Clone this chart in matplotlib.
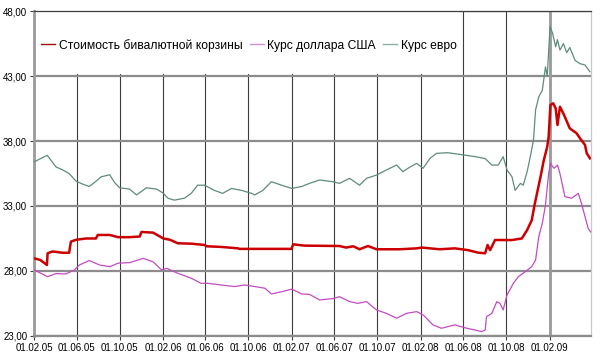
import matplotlib
matplotlib.use("Agg")
import matplotlib.pyplot as plt
import matplotlib.dates as mdates
from matplotlib.lines import Line2D
from matplotlib.patches import Rectangle
from matplotlib.ticker import FixedLocator, FuncFormatter
import pandas as pd

plt.rcParams["font.family"] = ["Liberation Sans", "DejaVu Sans"]

# Курс евро (руб.)
euro_dates = [
    "2005-02-01", "2005-03-10", "2005-04-04", "2005-04-21", "2005-05-11", "2005-05-31",
    "2005-06-17", "2005-07-07", "2005-07-26", "2005-08-10", "2005-09-03", "2005-09-17",
    "2005-10-01", "2005-10-29", "2005-11-18", "2005-12-16", "2006-01-14", "2006-02-01",
    "2006-02-15", "2006-03-05", "2006-04-03", "2006-04-22", "2006-05-10", "2006-05-30",
    "2006-06-27", "2006-07-20", "2006-08-14", "2006-09-12", "2006-10-10", "2006-10-19",
    "2006-11-11", "2006-12-05", "2007-01-03", "2007-02-01", "2007-03-01", "2007-03-23",
    "2007-04-21", "2007-05-28", "2007-06-16", "2007-07-15", "2007-08-12", "2007-09-01",
    "2007-09-29", "2007-10-27", "2007-11-25", "2007-12-13", "2008-01-02", "2008-01-21",
    "2008-02-08", "2008-02-28", "2008-03-17", "2008-04-18", "2008-05-27", "2008-07-04",
    "2008-08-02", "2008-08-21", "2008-09-08", "2008-09-22", "2008-10-03", "2008-10-17",
    "2008-10-26", "2008-11-10", "2008-11-18", "2008-11-29", "2008-12-08", "2008-12-17",
    "2008-12-23", "2009-01-01", "2009-01-11", "2009-01-20", "2009-01-25", "2009-02-02",
    "2009-02-09", "2009-02-18", "2009-02-23", "2009-03-02", "2009-03-12", "2009-03-21",
    "2009-03-30", "2009-04-14", "2009-04-28", "2009-05-12", "2009-05-26",
]
euro_vals = [
    36.4, 36.9, 36.0, 35.8, 35.5, 34.9,
    34.7, 34.5, 34.9, 35.25, 35.4, 34.8,
    34.4, 34.3, 33.85, 34.4, 34.3, 34.0,
    33.6, 33.45, 33.6, 33.97, 34.6, 34.6,
    34.2, 33.97, 34.35, 34.2, 33.97, 33.85,
    34.2, 34.87, 34.6, 34.35, 34.5, 34.74,
    35.0, 34.87, 34.74, 35.13, 34.6, 35.13,
    35.38, 35.77, 36.15, 35.64, 36.0, 36.28,
    35.9, 36.67, 37.05, 37.1, 36.95, 36.8,
    36.65, 36.15, 36.15, 36.8, 35.77, 35.25,
    34.2, 34.74, 34.6, 35.64, 36.8, 38.08,
    40.4, 41.4, 41.9, 43.7, 43.0, 46.8,
    46.3, 45.25, 45.8, 45.0, 45.5, 44.8,
    45.2, 44.2, 43.95, 43.85, 43.33,
]

# Курс доллара США (руб.)
usd_dates = [
    "2005-02-01", "2005-03-11", "2005-04-04", "2005-05-02", "2005-05-26", "2005-06-09",
    "2005-07-07", "2005-08-05", "2005-09-03", "2005-09-27", "2005-10-29", "2005-12-07",
    "2006-01-04", "2006-01-28", "2006-02-12", "2006-03-15", "2006-04-22", "2006-05-20",
    "2006-06-08", "2006-07-16", "2006-08-23", "2006-09-21", "2006-10-19", "2006-11-17",
    "2006-12-05", "2007-01-03", "2007-02-01", "2007-03-01", "2007-03-23", "2007-04-21",
    "2007-05-28", "2007-06-16", "2007-07-15", "2007-08-07", "2007-09-01", "2007-09-29",
    "2007-10-27", "2007-11-25", "2007-12-23", "2008-01-21", "2008-02-09", "2008-03-07",
    "2008-03-31", "2008-05-08", "2008-06-11", "2008-07-04", "2008-07-23", "2008-08-02",
    "2008-08-06", "2008-08-21", "2008-09-04", "2008-09-13", "2008-09-22", "2008-10-03",
    "2008-10-21", "2008-11-04", "2008-11-24", "2008-12-12", "2008-12-23", "2009-01-01",
    "2009-01-11", "2009-01-20", "2009-01-29", "2009-02-03", "2009-02-13", "2009-02-23",
    "2009-03-02", "2009-03-16", "2009-04-04", "2009-04-23", "2009-05-02", "2009-05-12",
    "2009-05-21", "2009-05-28",
]
usd_vals = [
    28.08, 27.56, 27.8, 27.77, 28.08, 28.46,
    28.8, 28.46, 28.33, 28.6, 28.64, 28.97,
    28.7, 28.08, 28.2, 27.82, 27.44, 27.05,
    27.05, 26.92, 26.8, 26.92, 26.8, 26.67,
    26.23, 26.4, 26.6, 26.23, 26.2, 25.77,
    25.87, 26.02, 25.64, 25.51, 25.64, 25.0,
    24.74, 24.36, 24.74, 24.87, 24.6, 23.85,
    23.59, 23.85, 23.59, 23.46, 23.33, 23.46,
    24.48, 24.74, 25.64, 25.51, 25.0, 26.15,
    27.05, 27.56, 27.95, 28.33, 28.85, 30.64,
    31.67, 33.08, 35.51, 36.28, 35.9, 36.15,
    35.5, 33.72, 33.6, 33.97, 33.2, 32.18,
    31.28, 31.0,
]

# Стоимость бивалютной корзины (руб.)
basket_dates = [
    "2005-02-01", "2005-02-18", "2005-03-09", "2005-03-11", "2005-03-25", "2005-04-23",
    "2005-05-11", "2005-05-16", "2005-05-31", "2005-06-28", "2005-07-26", "2005-07-31",
    "2005-09-03", "2005-09-27", "2005-10-29", "2005-11-27", "2005-12-02", "2006-01-04",
    "2006-02-02", "2006-02-21", "2006-03-15", "2006-04-22", "2006-05-30", "2006-06-04",
    "2006-07-16", "2006-09-02", "2006-09-06", "2006-11-17", "2007-01-31", "2007-02-05",
    "2007-03-09", "2007-06-16", "2007-07-05", "2007-07-25", "2007-08-12", "2007-09-05",
    "2007-09-29", "2007-12-04", "2008-01-21", "2008-02-04", "2008-03-26", "2008-05-08",
    "2008-06-15", "2008-07-13", "2008-08-02", "2008-08-09", "2008-08-16", "2008-08-30",
    "2008-09-18", "2008-10-17", "2008-11-14", "2008-11-29", "2008-12-12", "2008-12-20",
    "2008-12-27", "2009-01-06", "2009-01-15", "2009-01-25", "2009-01-29", "2009-02-03",
    "2009-02-11", "2009-02-18", "2009-02-23", "2009-03-02", "2009-03-12", "2009-03-30",
    "2009-04-18", "2009-04-28", "2009-05-12", "2009-05-17", "2009-05-26",
]
basket_vals = [
    28.97, 28.85, 28.46, 29.36, 29.5, 29.4,
    29.4, 30.26, 30.4, 30.5, 30.5, 30.77,
    30.77, 30.6, 30.6, 30.65, 31.0, 30.95,
    30.5, 30.4, 30.13, 30.1, 30.0, 29.9,
    29.85, 29.74, 29.7, 29.7, 29.7, 30.05,
    29.95, 29.92, 29.8, 29.9, 29.67, 29.92,
    29.67, 29.67, 29.74, 29.8, 29.67, 29.74,
    29.6, 29.41, 29.36, 30.0, 29.6, 30.38,
    30.38, 30.38, 30.5, 31.15, 31.9, 33.08,
    33.97, 35.25, 36.5, 37.56, 38.33, 40.77,
    40.9, 40.5, 39.23, 40.64, 40.1, 38.97,
    38.6, 38.2, 37.7, 37.05, 36.67,
]

tick_dates = [
    "2005-02-01", "2005-06-01", "2005-10-01", "2006-02-01", "2006-06-01", "2006-10-01",
    "2007-02-01", "2007-06-01", "2007-10-01", "2008-02-01", "2008-06-01", "2008-10-01",
    "2009-02-01",
]
y_ticks = [23, 28, 33, 38, 43, 48]

labels = ["Стоимость бивалютной корзины", "Курс доллара США", "Курс евро"]
colors = ["#cc0000", "#c24cc2", "#5e8c7c"]
legend_colors = ["#a01010", "#d090d0", "#8fb0a5"]

fig = plt.figure(figsize=(6, 3.57), dpi=100)
ax = fig.add_axes([0.057, 0.059, 0.928, 0.910])

ax.plot(pd.to_datetime(euro_dates), euro_vals, color=colors[2], lw=0.9, zorder=3)
ax.plot(pd.to_datetime(usd_dates), usd_vals, color=colors[1], lw=0.9, zorder=3)
ax.plot(pd.to_datetime(basket_dates), basket_vals, color=colors[0], lw=1.8, zorder=4)

ticks_num = mdates.date2num(pd.to_datetime(tick_dates))
ax.xaxis.set_major_locator(FixedLocator(ticks_num))
ax.xaxis.set_major_formatter(mdates.DateFormatter("%d.%m.%y"))
ax.set_xlim(mdates.date2num(pd.Timestamp("2005-02-01")),
            mdates.date2num(pd.Timestamp("2009-05-29")))

ax.set_ylim(23, 48)
ax.set_yticks(y_ticks)
ax.yaxis.set_major_formatter(FuncFormatter(lambda v, p: f"{v:.2f}".replace(".", ",")))

ax.set_axisbelow(True)
ax.grid(axis="y", color="#8c8c8c", lw=1.6)
ax.grid(axis="x", color="#3c3c3c", lw=0.8)
ax.axvline(ticks_num[-1], color="#9a9a9a", lw=2.0, zorder=0.6)

# белая подложка под легендой
ax.add_patch(Rectangle((0, 0.806), 0.763, 0.19, transform=ax.transAxes,
                       facecolor="white", edgecolor="none", zorder=1))

ax.spines["left"].set_color("#9a9a9a")
ax.spines["left"].set_linewidth(2.0)
ax.spines["bottom"].set_color("#8c8c8c")
ax.spines["bottom"].set_linewidth(1.6)
ax.spines["top"].set_color("#3c3c3c")
ax.spines["top"].set_linewidth(0.9)
ax.spines["right"].set_color("#c8c8c8")
ax.spines["right"].set_linewidth(0.9)

ax.tick_params(axis="both", length=3, width=0.8, color="#3c3c3c", labelsize=7, pad=2)

handles = [Line2D([], [], color=c, lw=1.0) for c in legend_colors]
ax.legend(handles, labels, loc="center left", bbox_to_anchor=(0.006, 0.895),
          ncol=3, frameon=False, fontsize=8.7, handlelength=1.15, handletextpad=0.3,
          columnspacing=0.6, borderaxespad=0, borderpad=0.3)

fig.savefig("out.png", dpi=100)
